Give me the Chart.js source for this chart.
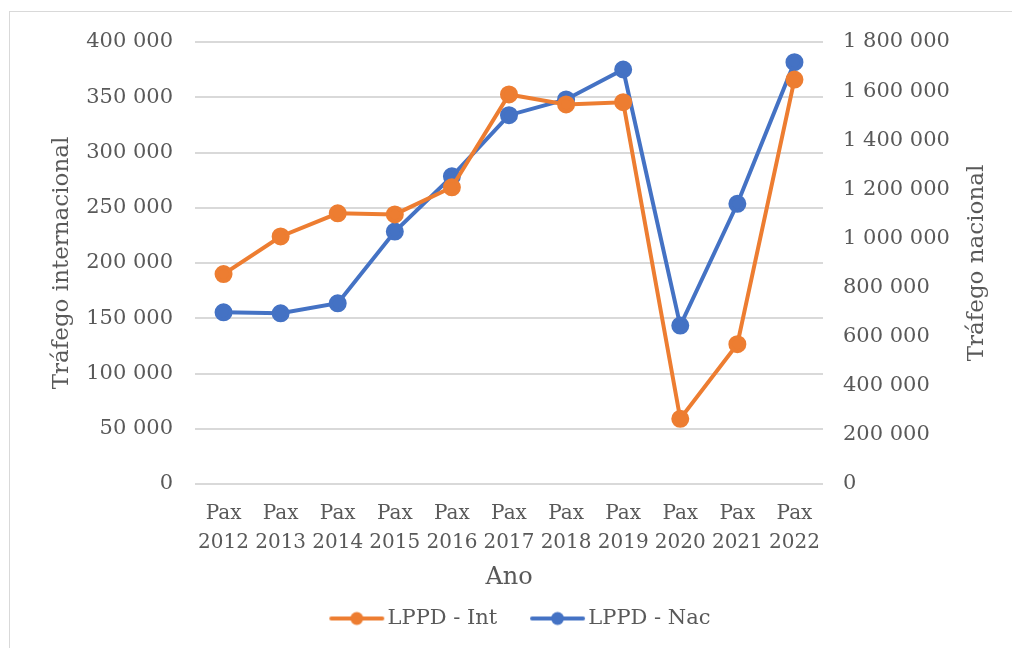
<!DOCTYPE html>
<html>
<head>
<meta charset="utf-8">
<script src="https://cdn.jsdelivr.net/npm/chart.js@4"></script>
<style>
  body { margin: 0; background: #fff; }
  #wrap { position: relative; width: 1012px; height: 648px; }
  #frame { position: absolute; left: 9px; top: 11px; width: 1010px; height: 650px; border: 1px solid #d9d9d9; pointer-events: none; }
</style>
</head>
<body>
<div id="wrap">
  <canvas id="chart" width="1012" height="648"></canvas>
  <div id="frame"></div>
</div>
<script>
"use strict";

const years = ['2012', '2013', '2014', '2015', '2016', '2017', '2018', '2019', '2020', '2021', '2022'];
const intValues = [190000, 224000, 245000, 244000, 268500, 352500, 343500, 345500, 59000, 126500, 366000];
const nacValues = [699000, 695000, 736000, 1028000, 1253000, 1502000, 1566000, 1688000, 645000, 1141000, 1718000];
const leftTicks = [0, 50000, 100000, 150000, 200000, 250000, 300000, 350000, 400000];
const rightTicks = [0, 200000, 400000, 600000, 800000, 1000000, 1200000, 1400000, 1600000, 1800000];

const orange = '#ED7D31';
const blue = '#4472C4';
const textColor = '#595959';
const font = "'DejaVu Serif', serif";

function fmt(v) {
  return String(v).replace(/\B(?=(\d{3})+(?!\d))/g, ' ');
}

// line + marker sample for the legend, shifted right inside its canvas
function legendSample(color) {
  const c = document.createElement('canvas');
  c.width = 72;
  c.height = 16;
  const ctx = c.getContext('2d');
  ctx.strokeStyle = color;
  ctx.lineWidth = 4;
  ctx.lineCap = 'round';
  ctx.beginPath();
  ctx.moveTo(17, 8);
  ctx.lineTo(68, 8);
  ctx.stroke();
  ctx.fillStyle = color;
  ctx.beginPath();
  ctx.arc(42.5, 8, 6.5, 0, Math.PI * 2);
  ctx.fill();
  return c;
}
const samples = [legendSample(orange), legendSample(blue)];

// right axis title reads bottom-to-top like the left one
const rightTitle = {
  id: 'rightTitle',
  afterDraw(chart) {
    const {ctx, chartArea} = chart;
    ctx.save();
    ctx.translate(977, (chartArea.top + chartArea.bottom) / 2);
    ctx.rotate(-Math.PI / 2);
    ctx.fillStyle = textColor;
    ctx.font = '23px ' + font;
    ctx.textAlign = 'center';
    ctx.textBaseline = 'middle';
    ctx.fillText('Tráfego nacional', 0, 0);
    ctx.restore();
  },
};

new Chart(document.getElementById('chart').getContext('2d'), {
  type: 'line',
  data: {
    labels: years.map(y => ['Pax', y]),
    datasets: [{
      label: 'LPPD - Int',
      data: intValues,
      yAxisID: 'y',
      borderColor: orange,
      backgroundColor: orange,
      borderWidth: 4,
      pointRadius: 7,
      pointHoverRadius: 7,
      tension: 0,
    }, {
      label: 'LPPD - Nac',
      data: nacValues,
      yAxisID: 'y2',
      borderColor: blue,
      backgroundColor: blue,
      borderWidth: 4,
      pointRadius: 7,
      pointHoverRadius: 7,
      tension: 0,
    }],
  },
  plugins: [rightTitle],
  options: {
    responsive: false,
    animation: false,
    layout: {
      padding: {left: 22, right: 0, top: 42, bottom: 9},
    },
    plugins: {
      tooltip: {enabled: false},
      legend: {
        position: 'bottom',
        labels: {
          color: textColor,
          font: {family: font, size: 21},
          usePointStyle: true,
          pointStyleWidth: 53.5,
          padding: 27,
          generateLabels: chart => {
            const items = Chart.defaults.plugins.legend.labels.generateLabels(chart);
            items.forEach((it, i) => { it.pointStyle = samples[i]; });
            return items;
          },
        },
      },
    },
    scales: {
      x: {
        offset: true,
        grid: {display: false},
        border: {display: false},
        ticks: {
          color: textColor,
          font: {family: font, size: 20, lineHeight: 1.45},
          padding: 7,
          maxRotation: 0,
          autoSkip: false,
        },
        title: {
          display: true,
          text: 'Ano',
          color: textColor,
          font: {family: font, size: 24},
          padding: {top: 0, bottom: -11},
        },
        afterFit: s => { s.height = 97; },
      },
      y: {
        position: 'left',
        min: 0,
        max: 400000,
        afterBuildTicks: s => { s.ticks = leftTicks.map(v => ({value: v})); },
        grid: {color: '#d9d9d9', lineWidth: 2, drawTicks: false},
        border: {display: false},
        ticks: {
          color: textColor,
          font: {family: font, size: 21},
          padding: 22,
          callback: v => fmt(v),
        },
        title: {
          display: true,
          text: 'Tráfego internacional',
          color: textColor,
          font: {family: font, size: 23},
          padding: {top: 26, bottom: 0},
        },
        afterFit: s => { s.width = 173; },
      },
      y2: {
        position: 'right',
        min: 0,
        max: 1800000,
        afterBuildTicks: s => { s.ticks = rightTicks.map(v => ({value: v})); },
        grid: {drawOnChartArea: false, drawTicks: false},
        border: {display: false},
        ticks: {
          color: textColor,
          font: {family: font, size: 21},
          padding: 20,
          callback: v => fmt(v),
        },
        afterFit: s => { s.width = 189; },
      },
    },
  },
});
</script>
</body>
</html>
